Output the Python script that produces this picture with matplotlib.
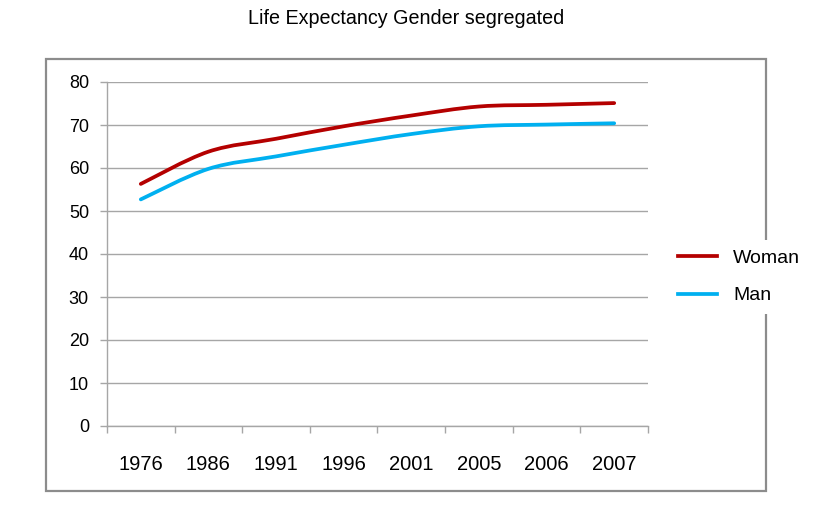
"""
Life expectancy by gender, Excel-style smoothed line chart
"""

import matplotlib
matplotlib.use('Agg')
import matplotlib.pyplot as plt
from matplotlib.lines import Line2D
from matplotlib.patches import PathPatch, Rectangle
from matplotlib.path import Path

plt.rcParams['font.family'] = ['Liberation Sans', 'DejaVu Sans']

years = ['1976', '1986', '1991', '1996', '2001', '2005', '2006', '2007']
woman = [56.3, 63.8, 66.8, 69.7, 72.2, 74.3, 74.7, 75.1]
man = [52.7, 59.8, 62.7, 65.4, 67.9, 69.7, 70.1, 70.4]
y_ticks = [0, 10, 20, 30, 40, 50, 60, 70, 80]

GRID = '#a6a6a6'


def smooth_path(xs, ys):
    """
    Catmull-Rom curve through the points, like Excel's smoothed line
    """
    pts = list(zip(xs, ys))
    verts = [pts[0]]
    codes = [Path.MOVETO]
    for i in range(len(pts) - 1):
        p0 = pts[i - 1] if i > 0 else pts[i]
        p1 = pts[i]
        p2 = pts[i + 1]
        p3 = pts[i + 2] if i + 2 < len(pts) else pts[i + 1]
        c1 = (p1[0] + (p2[0] - p0[0]) / 6, p1[1] + (p2[1] - p0[1]) / 6)
        c2 = (p2[0] - (p3[0] - p1[0]) / 6, p2[1] - (p3[1] - p1[1]) / 6)
        verts += [c1, c2, p2]
        codes += [Path.CURVE4] * 3
    return Path(verts, codes)


def main():
    fig = plt.figure(figsize=(8.32, 5.16), dpi=100)

    # outer chart border
    fig.patches.append(Rectangle((46 / 832, 1 - 491 / 516), 720 / 832, 432 / 516,
                                 transform=fig.transFigure, fill=False,
                                 edgecolor='#8c8c8c', linewidth=1.6, zorder=0))

    fig.text(406 / 832, 1 - 19 / 516, 'Life Expectancy Gender segregated',
             ha='center', va='center', fontsize=14.2, color='black')

    ax = fig.add_axes([107 / 832, 1 - 426 / 516, 541 / 832, 344 / 516])
    x = list(range(len(years)))

    series = [('Woman', woman, '#b40000'), ('Man', man, '#00b0f0')]
    handles = []
    for name, vals, color in series:
        ax.add_patch(PathPatch(smooth_path(x, vals), fill=False, edgecolor=color,
                               linewidth=2.7, capstyle='round', joinstyle='round', zorder=3))
        handles.append(Line2D([], [], color=color, linewidth=2.7, label=name))

    ax.set_xlim(-0.5, len(years) - 0.5)
    ax.set_ylim(0, 80)
    ax.set_yticks(y_ticks)
    ax.set_xticks(x)
    ax.set_xticklabels(years)
    ax.set_xticks([i - 0.5 for i in range(len(years) + 1)], minor=True)

    ax.grid(axis='y', color=GRID, linewidth=1.0)
    ax.set_axisbelow(True)
    for side in ['top', 'right']:
        ax.spines[side].set_visible(False)
    for side in ['left', 'bottom']:
        ax.spines[side].set_color(GRID)
        ax.spines[side].set_linewidth(1.0)

    ax.tick_params(axis='y', length=5, width=1.0, color=GRID, labelsize=13, pad=8)
    ax.tick_params(axis='x', which='major', length=0, labelsize=14.5, pad=21)
    ax.tick_params(axis='x', which='minor', length=5, width=1.0, color=GRID)

    leg = fig.legend(handles=handles, loc='center left',
                     bbox_to_anchor=(659 / 832, 1 - 277 / 516), frameon=True,
                     fontsize=14, handlelength=2.0, handletextpad=0.8,
                     labelspacing=1.0, borderpad=0.5)
    leg.get_frame().set_facecolor('white')
    leg.get_frame().set_edgecolor('none')
    leg.get_frame().set_alpha(1)

    plt.savefig('out.png', dpi=100)


if __name__ == '__main__':
    main()
